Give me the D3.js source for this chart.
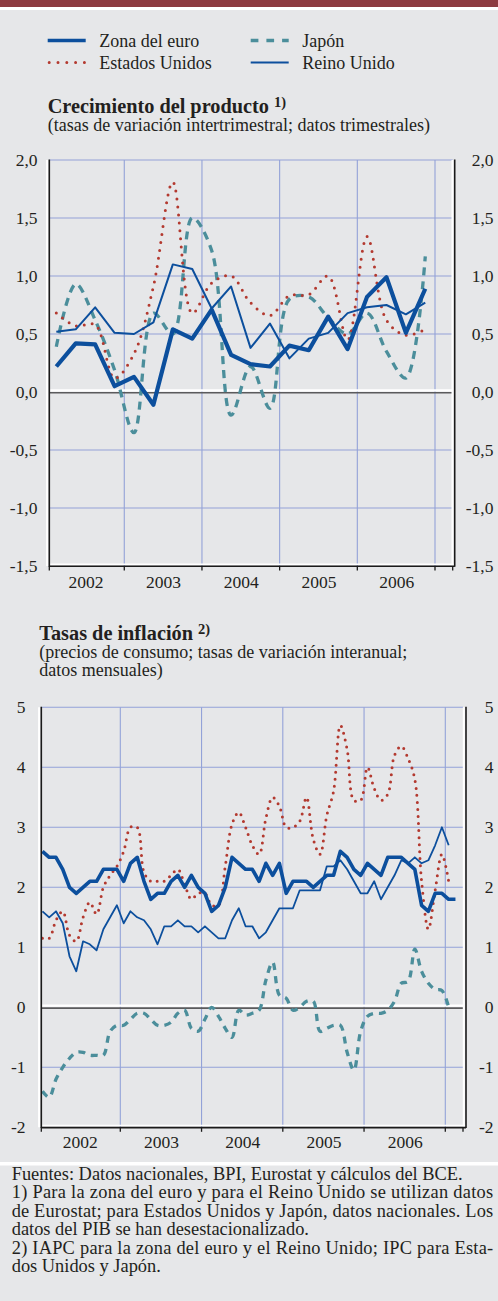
<!DOCTYPE html>
<html>
<head>
<meta charset="utf-8">
<script src="https://cdn.jsdelivr.net/npm/d3@7"></script>
<style>
  body { margin: 0; background: #e6e7e9; }
  svg { display: block; font-family: "Liberation Serif", "Times New Roman", serif; }
</style>
</head>
<body>
<div id="chart"></div>
<script>
// 1: DATA
// quarterly output growth (% q-o-q), 2002 Q1 - 2006 Q4
const quarters = [
    "2002-Q1", "2002-Q2", "2002-Q3", "2002-Q4",
    "2003-Q1", "2003-Q2", "2003-Q3", "2003-Q4",
    "2004-Q1", "2004-Q2", "2004-Q3", "2004-Q4",
    "2005-Q1", "2005-Q2", "2005-Q3", "2005-Q4",
    "2006-Q1", "2006-Q2", "2006-Q3", "2006-Q4"
];
const gdpEuro  = [0.22, 0.42, 0.41, 0.05, 0.13, -0.11, 0.54, 0.46, 0.71, 0.32, 0.24, 0.22, 0.40, 0.36, 0.65, 0.37, 0.82, 0.99, 0.51, 0.89];
const gdpUS    = [0.68, 0.57, 0.58, 0.12, 0.33, 0.91, 1.81, 0.68, 0.94, 1.00, 0.77, 0.66, 0.83, 0.84, 1.00, 0.45, 1.34, 0.62, 0.49, 0.54];
const gdpJapan = [0.39, 0.93, 0.62, 0.19, -0.35, 0.68, 0.50, 1.50, 1.22, -0.20, 0.22, -0.14, 0.80, 0.82, 0.64, 0.50, 0.68, 0.35, 0.12, 1.17];
const gdpUK    = [0.52, 0.54, 0.73, 0.51, 0.50, 0.60, 1.10, 1.06, 0.72, 0.91, 0.38, 0.59, 0.29, 0.46, 0.51, 0.68, 0.73, 0.75, 0.67, 0.77];

// monthly inflation (% y-o-y), Jan 2002 onwards
const months = [
    "2002-01", "2002-02", "2002-03", "2002-04", "2002-05", "2002-06", "2002-07", "2002-08", "2002-09", "2002-10", "2002-11", "2002-12",
    "2003-01", "2003-02", "2003-03", "2003-04", "2003-05", "2003-06", "2003-07", "2003-08", "2003-09", "2003-10", "2003-11", "2003-12",
    "2004-01", "2004-02", "2004-03", "2004-04", "2004-05", "2004-06", "2004-07", "2004-08", "2004-09", "2004-10", "2004-11", "2004-12",
    "2005-01", "2005-02", "2005-03", "2005-04", "2005-05", "2005-06", "2005-07", "2005-08", "2005-09", "2005-10", "2005-11", "2005-12",
    "2006-01", "2006-02", "2006-03", "2006-04", "2006-05", "2006-06", "2006-07", "2006-08", "2006-09", "2006-10", "2006-11", "2006-12",
    "2007-01", "2007-02"
];
const cpiEuro = [
    2.6, 2.5, 2.5, 2.3, 2.0, 1.9, 2.0, 2.1, 2.1, 2.3, 2.3, 2.3,
    2.1, 2.4, 2.5, 2.1, 1.8, 1.9, 1.9, 2.1, 2.2, 2.0, 2.2, 2.0,
    1.9, 1.6, 1.7, 2.0, 2.5, 2.4, 2.3, 2.3, 2.1, 2.4, 2.2, 2.4,
    1.9, 2.1, 2.1, 2.1, 2.0, 2.1, 2.2, 2.2, 2.6, 2.5, 2.3, 2.2,
    2.4, 2.3, 2.2, 2.5, 2.5, 2.5, 2.4, 2.3, 1.7, 1.6, 1.9, 1.9,
    1.8, 1.8
];
const cpiUS = [
    1.15, 1.15, 1.45, 1.6, 1.2, 1.1, 1.5, 1.75, 1.55, 2.0, 2.2, 2.35,
    2.6, 3.0, 3.0, 2.25, 2.1, 2.1, 2.1, 2.2, 2.3, 2.05, 1.8, 1.9,
    1.9, 1.7, 1.7, 2.35, 3.05, 3.25, 3.0, 2.7, 2.55, 3.15, 3.5, 3.35,
    3.0, 3.0, 3.1, 3.5, 2.8, 2.55, 3.2, 3.6, 4.7, 4.3, 3.45, 3.45,
    4.0, 3.65, 3.45, 3.55, 4.2, 4.35, 4.15, 3.8, 2.1, 1.3, 1.95, 2.55,
    2.1
];
const cpiJapan = [
    -1.4, -1.5, -1.2, -1.0, -0.85, -0.75, -0.75, -0.8, -0.8, -0.8, -0.4, -0.3,
    -0.3, -0.2, -0.1, -0.1, -0.2, -0.3, -0.3, -0.25, -0.1, -0.05, -0.35, -0.4,
    -0.2, 0.0, -0.15, -0.35, -0.5, -0.05, -0.13, -0.1, -0.05, 0.45, 0.75, 0.2,
    0.15, -0.05, 0.0, 0.1, 0.1, -0.4, -0.35, -0.3, -0.3, -0.75, -1.05, -0.4,
    -0.15, -0.1, -0.1, -0.05, 0.1, 0.4, 0.43, 0.97, 0.6, 0.4, 0.3, 0.28,
    0.0
];
const cpiUK = [
    1.6, 1.5, 1.6, 1.4, 0.85, 0.6, 1.1, 1.05, 0.95, 1.3, 1.5, 1.7,
    1.4, 1.6, 1.5, 1.45, 1.3, 1.05, 1.35, 1.35, 1.45, 1.35, 1.35, 1.25,
    1.35, 1.25, 1.15, 1.15, 1.45, 1.65, 1.35, 1.35, 1.15, 1.25, 1.45, 1.65,
    1.65, 1.65, 1.95, 1.95, 1.95, 1.95, 2.35, 2.35, 2.45, 2.3, 2.1, 1.9,
    1.9, 2.1, 1.8, 2.0, 2.2, 2.45, 2.4, 2.5, 2.4, 2.45, 2.7, 3.0,
    2.7
];

// tick labels
const years = [2002, 2003, 2004, 2005, 2006];
const gdpTicks = [-1.5, -1.0, -0.5, 0.0, 0.5, 1.0, 1.5, 2.0];
const cpiTicks = [-2, -1, 0, 1, 2, 3, 4, 5];
const legendLabels = { euro: "Zona del euro", us: "Estados Unidos", jp: "Japón", uk: "Reino Unido" };

// 2: GLOBAL LAYOUT
const W = 498, H = 1301;
const bg = "#e6e7e9";
const textColor = "#231f20";
const gridColor = "#93a2d8";

const styles = {
    jp:   { color: "#4b8e9b", width: 3.3, dash: "8 6", dash2: "7 6", cap: "butt", curve: d3.curveCatmullRom.alpha(0.5) },
    us:   { color: "#b3392f", width: 3, dash: "0 8", dash2: "0 7", cap: "round", curve: d3.curveCatmullRom.alpha(0.5) },
    uk:   { color: "#0c4f9d", width: 2, width2: 1.8, dash: null, cap: "butt", curve: d3.curveLinear },
    euro: { color: "#0c4f9d", width: 4.2, width2: 3.6, dash: null, cap: "butt", curve: d3.curveLinear }
};

const locale = d3.formatLocale({ decimal: ",", thousands: ".", grouping: [3], currency: ["", ""], minus: "-" });

const svg = d3.select("#chart")
    .append("svg")
    .attr("width", W)
    .attr("height", H);

svg.append("rect").attr("width", W).attr("height", H).attr("fill", bg);
// top band
svg.append("rect").attr("width", W).attr("height", 7).attr("fill", "#8d3a40");
svg.append("rect").attr("y", 7).attr("width", W).attr("height", 3).attr("fill", "#ffffff");
// separator above notes
svg.append("rect").attr("y", 1162).attr("width", W).attr("height", 3.5).attr("fill", "#ffffff");

// 3: LEGEND
const legendPos = [
    { key: "euro", x: 47.7, y: 40.5 },
    { key: "us",   x: 47.7, y: 62.6 },
    { key: "jp",   x: 250.7, y: 40.5 },
    { key: "uk",   x: 250.7, y: 62.4 }
];
const legend = svg.append("g");
legendPos.forEach(p => {
    const s = styles[p.key];
    const sym = legend.append("line")
        .attr("x1", p.key === "us" ? p.x + 1.5 : p.x)
        .attr("x2", p.key === "us" ? p.x + 37.5 : p.x + 38)
        .attr("y1", p.y).attr("y2", p.y)
        .attr("stroke", s.color)
        .attr("stroke-linecap", s.cap)
        .attr("stroke-width", p.key === "euro" ? 3.6 : (p.key === "uk" ? 2 : s.width));
    if (p.key === "us") sym.attr("stroke-dasharray", "0 8.8");
    if (p.key === "jp") sym.attr("stroke-dasharray", "7.7 8");
    legend.append("text")
        .attr("x", p.x + 51.5)
        .attr("y", p.y + 6.5)
        .attr("font-size", "18px")
        .attr("fill", textColor)
        .text(legendLabels[p.key]);
});

// 4: PANEL DRAWING
function drawPanel(cfg) {
    const g = svg.append("g");

    // titles
    const t = g.append("text")
        .attr("x", cfg.titleX).attr("y", cfg.titleY)
        .attr("font-size", "20.3px").attr("font-weight", "bold")
        .attr("fill", textColor)
        .text(cfg.title);
    t.append("tspan")
        .attr("dx", 5).attr("dy", -6.5)
        .attr("font-size", "14.5px")
        .text(cfg.note);
    cfg.subtitle.forEach((line, i) => {
        g.append("text")
            .attr("x", cfg.titleX).attr("y", cfg.subY[i])
            .attr("font-size", "18px")
            .attr("fill", textColor)
            .text(line);
    });

    const x = d3.scaleLinear().domain([2002, 2007]).range(cfg.yearRange);
    const y = d3.scaleLinear().domain(d3.extent(cfg.ticks)).range([cfg.bottom, cfg.top]);

    // gridlines
    g.selectAll(".hgrid")
        .data(cfg.ticks.filter(v => v !== cfg.ticks[0] && v !== 0))
        .enter().append("line")
        .attr("x1", cfg.left).attr("x2", cfg.right)
        .attr("y1", d => y(d)).attr("y2", d => y(d))
        .attr("stroke", gridColor).attr("stroke-width", 1.1);

    g.selectAll(".vgrid")
        .data(years.map(d => d + 1))
        .enter().append("line")
        .attr("x1", d => x(d)).attr("x2", d => x(d))
        .attr("y1", cfg.top).attr("y2", cfg.bottom)
        .attr("stroke", gridColor).attr("stroke-width", 1.1);

    // zero line
    g.append("line")
        .attr("x1", cfg.left).attr("x2", cfg.right)
        .attr("y1", y(0) - 1.6).attr("y2", y(0) - 1.6)
        .attr("stroke", "#ffffff").attr("stroke-width", 2.2);
    g.append("line")
        .attr("x1", cfg.left).attr("x2", cfg.right)
        .attr("y1", y(0) + 0.8).attr("y2", y(0) + 0.8)
        .attr("stroke", "#5b5b5d").attr("stroke-width", 1.6);

    // frame: white highlight next to the axis lines
    g.append("line")
        .attr("x1", cfg.left - 2.2).attr("x2", cfg.left - 2.2)
        .attr("y1", cfg.top).attr("y2", cfg.bottom)
        .attr("stroke", "#ffffff").attr("stroke-width", 2);
    g.append("line")
        .attr("x1", cfg.axisRight - 2.2).attr("x2", cfg.axisRight - 2.2)
        .attr("y1", cfg.top).attr("y2", cfg.bottom)
        .attr("stroke", "#ffffff").attr("stroke-width", 2);
    g.append("line")
        .attr("x1", cfg.left).attr("x2", cfg.axisRight)
        .attr("y1", cfg.bottom - 1.8).attr("y2", cfg.bottom - 1.8)
        .attr("stroke", "#ffffff").attr("stroke-width", 1.6);

    // series
    cfg.series.forEach(s => {
        const st = styles[s.key];
        const line = d3.line()
            .x((d, i) => x(s.time[i]))
            .y(d => y(d))
            .curve(st.curve);
        const p = g.append("path")
            .datum(s.values)
            .attr("d", line)
            .attr("fill", "none")
            .attr("stroke", st.color)
            .attr("stroke-width", cfg.panel === 1 ? st.width : (st.width2 || st.width))
            .attr("stroke-linecap", st.cap)
            .attr("stroke-linejoin", "round");
        if (st.dash) p.attr("stroke-dasharray", cfg.panel === 1 ? st.dash : st.dash2);
    });

    // black axis lines
    [cfg.left, cfg.axisRight].forEach(xx => {
        g.append("line")
            .attr("x1", xx).attr("x2", xx)
            .attr("y1", cfg.top - 0.5).attr("y2", cfg.bottom + 0.8)
            .attr("stroke", "#1a1a1a").attr("stroke-width", 1.6);
    });
    g.append("line")
        .attr("x1", cfg.left).attr("x2", cfg.axisRight)
        .attr("y1", cfg.bottom + 0.3).attr("y2", cfg.bottom + 0.3)
        .attr("stroke", "#1a1a1a").attr("stroke-width", 1.6);

    // bottom ticks
    const tickX = [cfg.left].concat(years.map(d => x(d + 1)).filter(v => v < cfg.right), [cfg.right]);
    g.selectAll(".btick")
        .data(tickX)
        .enter().append("line")
        .attr("x1", d => d).attr("x2", d => d)
        .attr("y1", cfg.bottom).attr("y2", cfg.bottom + 4.5)
        .attr("stroke", "#1a1a1a").attr("stroke-width", 1.3);

    // year labels
    const yearAxis = g.append("g")
        .attr("transform", `translate(0,${cfg.bottom})`)
        .call(d3.axisBottom(x)
            .tickValues(years.map(d => d + 0.5))
            .tickSize(0)
            .tickPadding(cfg.yearPad)
            .tickFormat(d => Math.floor(d)));

    // value labels, left and right
    const leftAxis = g.append("g")
        .attr("transform", `translate(${cfg.labelLeft + 3},0)`)
        .call(d3.axisLeft(y).tickValues(cfg.ticks).tickSize(0).tickPadding(3).tickFormat(cfg.fmt));
    const rightAxis = g.append("g")
        .attr("transform", `translate(${cfg.labelRight + 3},0)`)
        .call(d3.axisLeft(y).tickValues(cfg.ticks).tickSize(0).tickPadding(3).tickFormat(cfg.fmt));

    [yearAxis, leftAxis, rightAxis].forEach(a => {
        a.select(".domain").remove();
        a.selectAll("text")
            .attr("font-family", "'Liberation Serif', 'Times New Roman', serif")
            .attr("font-size", "17.5px")
            .attr("fill", textColor);
    });
}

// ==========================================
//         CHART 1: Crecimiento del producto
// ==========================================
const quarterTime = quarters.map(q => +q.slice(0, 4) + (+q.slice(-1) - 0.5) / 4);
drawPanel({
    panel: 1,
    title: "Crecimiento del producto",
    note: "1)",
    subtitle: ["(tasas de variación intertrimestral; datos trimestrales)"],
    titleX: 47.7, titleY: 113.3, subY: [131],
    yearRange: [46.6, 435],
    left: 49.3, right: 452.7, axisRight: 454.7,
    top: 160, bottom: 566,
    ticks: gdpTicks,
    fmt: locale.format(".1f"),
    labelLeft: 37.5, labelRight: 493.5,
    yearPad: 10,
    series: [
        { key: "jp",   values: gdpJapan, time: quarterTime },
        { key: "us",   values: gdpUS,    time: quarterTime },
        { key: "uk",   values: gdpUK,    time: quarterTime },
        { key: "euro", values: gdpEuro,  time: quarterTime }
    ]
});

// ==========================================
//         CHART 2: Tasas de inflación
// ==========================================
const monthTime = months.map(m => +m.slice(0, 4) + (+m.slice(5) - 0.5) / 12);
drawPanel({
    panel: 2,
    title: "Tasas de inflación",
    note: "2)",
    subtitle: ["(precios de consumo; tasas de variación interanual;", "datos mensuales)"],
    titleX: 39.3, titleY: 640, subY: [657.5, 676],
    yearRange: [39.05, 445.3],
    left: 41.3, right: 463, axisRight: 466,
    top: 707.3, bottom: 1127.3,
    ticks: cpiTicks,
    fmt: locale.format("d"),
    labelLeft: 25.5, labelRight: 493.5,
    yearPad: 8.5,
    series: [
        { key: "jp",   values: cpiJapan, time: monthTime },
        { key: "us",   values: cpiUS,    time: monthTime },
        { key: "uk",   values: cpiUK,    time: monthTime },
        { key: "euro", values: cpiEuro,  time: monthTime }
    ]
});

// 5: NOTES
const notes = [
    { text: "Fuentes: Datos nacionales, BPI, Eurostat y cálculos del BCE.", justify: false },
    { text: "1) Para la zona del euro y para el Reino Unido se utilizan datos", justify: true },
    { text: "de Eurostat; para Estados Unidos y Japón, datos nacionales. Los", justify: true },
    { text: "datos del PIB se han desestacionalizado.", justify: false },
    { text: "2) IAPC para la zona del euro y el Reino Unido; IPC para Esta-", justify: true },
    { text: "dos Unidos y Japón.", justify: false }
];
svg.append("g").selectAll("text")
    .data(notes)
    .enter().append("text")
    .attr("x", 11.7)
    .attr("y", (d, i) => 1180 + i * 18.4)
    .attr("font-size", "18.4px")
    .attr("fill", textColor)
    .attr("textLength", d => d.justify ? 481.5 : null)
    .attr("lengthAdjust", d => d.justify ? "spacing" : null)
    .text(d => d.text);
</script>
</body>
</html>
